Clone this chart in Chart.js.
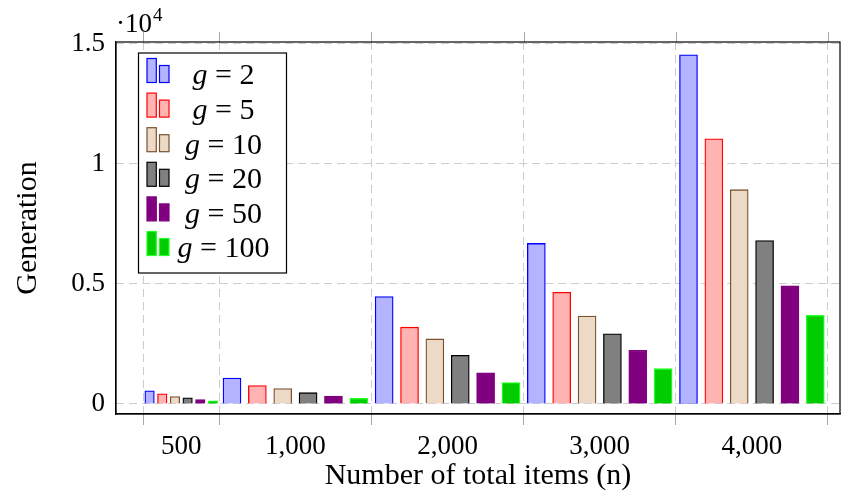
<!DOCTYPE html>
<html>
<head>
<meta charset="utf-8">
<script src="https://cdn.jsdelivr.net/npm/chart.js@4.4.1/dist/chart.umd.min.js"></script>
<style>
  html, body { margin: 0; padding: 0; background: #fff; }
</style>
</head>
<body>
<canvas id="genChart" width="845" height="495"></canvas>
<script>
// groups on the x axis (n), each group spans [center - span/2, center + span/2]
var groupLabels = ['500', '1,000', '2,000', '3,000', '4,000'];
var groupCenters = [250, 1000, 2000, 3000, 4000];
var groupSpans = [500, 1000, 1000, 1000, 1000];
var boundaryTicks = [0, 500, 1500, 2500, 3500, 4500];
var yTicks = [0, 5000, 10000, 15000];

// series: g values and generations
var gValues = [2, 5, 10, 20, 50, 100];
var gen_g2 = [550, 1080, 4480, 6690, 14550];
var gen_g5 = [420, 770, 3200, 4650, 11050];
var gen_g10 = [310, 640, 2710, 3660, 8930];
var gen_g20 = [260, 470, 2030, 2920, 6810];
var gen_g50 = [180, 330, 1300, 2240, 4920];
var gen_g100 = [130, 230, 890, 1470, 3690];
var seriesValues = [gen_g2, gen_g5, gen_g10, gen_g20, gen_g50, gen_g100];

var fills = ['#b3b3ff', '#ffb3b3', '#ecd9c6', '#808080', '#800080', '#00cc00'];
var edges = ['#0000ff', '#ff0000', '#7a5230', '#000000', '#800080', '#22ff22'];

var FONT = "'Liberation Serif', 'Times New Roman', serif";
Chart.defaults.font.family = FONT;

function barX(s, gi) {
  return groupCenters[gi] + (s - 2.5) * groupSpans[gi] / 6;
}

var datasets = [];
gValues.forEach(function (g, s) {
  // narrow bars of the first group
  datasets.push({
    label: 'g = ' + g,
    data: [{ x: barX(s, 0), y: seriesValues[s][0] }],
    backgroundColor: fills[s],
    borderColor: edges[s],
    borderWidth: 1.3,
    barThickness: 9.5,
    grouped: false,
    inLegend: false
  });
  var wide = [];
  for (var gi = 1; gi < groupCenters.length; gi++) {
    wide.push({ x: barX(s, gi), y: seriesValues[s][gi] });
  }
  datasets.push({
    label: 'g = ' + g,
    data: wide,
    backgroundColor: fills[s],
    borderColor: edges[s],
    borderWidth: 1.3,
    barThickness: 18,
    grouped: false,
    inLegend: true
  });
});

function isBoundary(v) { return boundaryTicks.indexOf(v) >= 0; }

var frameLegend = {
  id: 'frameLegend',
  afterDraw: function (chart) {
    var ctx = chart.ctx, a = chart.chartArea, xs = chart.scales.x;
    ctx.save();
    // top tick marks
    ctx.strokeStyle = '#a8a8a8';
    ctx.lineWidth = 1;
    boundaryTicks.forEach(function (t) {
      var px = Math.round(xs.getPixelForValue(t)) + 0.5;
      ctx.beginPath();
      ctx.moveTo(px, a.top);
      ctx.lineTo(px, a.top - 10);
      ctx.stroke();
    });
    // axis box
    ctx.strokeStyle = '#000';
    ctx.lineWidth = 1.2;
    ctx.strokeRect(a.left, a.top, a.right - a.left, a.bottom - a.top);

    // scale multiplier
    ctx.fillStyle = '#000';
    ctx.textAlign = 'left';
    ctx.textBaseline = 'alphabetic';
    ctx.font = '27px ' + FONT;
    ctx.fillText('\u00b710', a.left, a.top - 10);
    var w = ctx.measureText('\u00b710').width;
    ctx.font = '19px ' + FONT;
    ctx.fillText('4', a.left + 1 + w, a.top - 21);

    // legend
    var bx = a.left + 22.5, by = a.top + 11, bw = 148, bh = 220;
    ctx.fillStyle = '#fff';
    ctx.fillRect(bx, by, bw, bh);
    ctx.strokeStyle = '#000';
    ctx.lineWidth = 1.2;
    ctx.strokeRect(bx, by, bw, bh);
    var items = chart.data.datasets.filter(function (d) { return d.inLegend; });
    items.forEach(function (d, i) {
      var cy = by + 23.5 + i * 34.6;
      ctx.fillStyle = d.backgroundColor;
      ctx.strokeStyle = d.borderColor;
      ctx.lineWidth = 1.2;
      ctx.fillRect(bx + 8.5, cy - 18, 9.3, 24);
      ctx.strokeRect(bx + 8.5, cy - 18, 9.3, 24);
      ctx.fillRect(bx + 21, cy - 11, 9.5, 17);
      ctx.strokeRect(bx + 21, cy - 11, 9.5, 17);

      var parts = d.label.split(' = ');
      ctx.fillStyle = '#000';
      ctx.textBaseline = 'middle';
      ctx.font = 'italic 30px ' + FONT;
      var w1 = ctx.measureText(parts[0]).width;
      ctx.font = '30px ' + FONT;
      var rest = ' = ' + parts[1];
      var w2 = ctx.measureText(rest).width;
      var x0 = bx + 85 - (w1 + w2) / 2;
      ctx.font = 'italic 30px ' + FONT;
      ctx.fillText(parts[0], x0, cy);
      ctx.font = '30px ' + FONT;
      ctx.fillText(rest, x0 + w1, cy);
    });
    ctx.restore();
  }
};

var chart = new Chart(document.getElementById('genChart').getContext('2d'), {
  type: 'bar',
  data: { datasets: datasets },
  options: {
    responsive: false,
    animation: false,
    layout: { padding: { left: 0, right: 5, top: 42, bottom: 0 } },
    plugins: {
      legend: { display: false },
      tooltip: { enabled: false }
    },
    scales: {
      x: {
        type: 'linear',
        min: -179,
        max: 4579,
        offset: false,
        afterBuildTicks: function (s) {
          var vals = boundaryTicks.concat(groupCenters).sort(function (p, q) { return p - q; });
          s.ticks = vals.map(function (v) { return { value: v }; });
        },
        grid: {
          offset: false,
          color: function (c) { return c.tick && isBoundary(c.tick.value) ? '#cccccc' : 'rgba(0,0,0,0)'; },
          tickColor: function (c) { return c.tick && isBoundary(c.tick.value) ? '#a8a8a8' : 'rgba(0,0,0,0)'; },
          tickLength: 11,
          lineWidth: 1
        },
        border: { color: '#000', width: 1.2, dash: [8, 5] },
        ticks: {
          autoSkip: false,
          maxRotation: 0,
          color: '#000',
          font: { size: 27 },
          padding: 6,
          callback: function (v) {
            var i = groupCenters.indexOf(v);
            return i >= 0 ? groupLabels[i] : '';
          }
        },
        title: {
          display: true,
          text: 'Number of total items (n)',
          color: '#000',
          font: { size: 30 },
          padding: { top: 0, bottom: 1 }
        },
        afterFit: function (s) { s.height = 81; }
      },
      y: {
        min: -418,
        max: 15083,
        afterBuildTicks: function (s) {
          s.ticks = yTicks.map(function (v) { return { value: v }; });
        },
        grid: { color: '#cccccc', drawTicks: false, lineWidth: 1 },
        border: { color: '#000', width: 1.2, dash: [8, 5] },
        ticks: {
          color: '#000',
          font: { size: 27 },
          padding: 11,
          callback: function (v) { return String(v / 10000); }
        },
        title: {
          display: true,
          text: 'Generation',
          color: '#000',
          font: { size: 30 },
          padding: { top: 10, bottom: 0 }
        },
        afterFit: function (s) { s.width = 116; }
      }
    }
  },
  plugins: [frameLegend]
});
</script>
</body>
</html>
